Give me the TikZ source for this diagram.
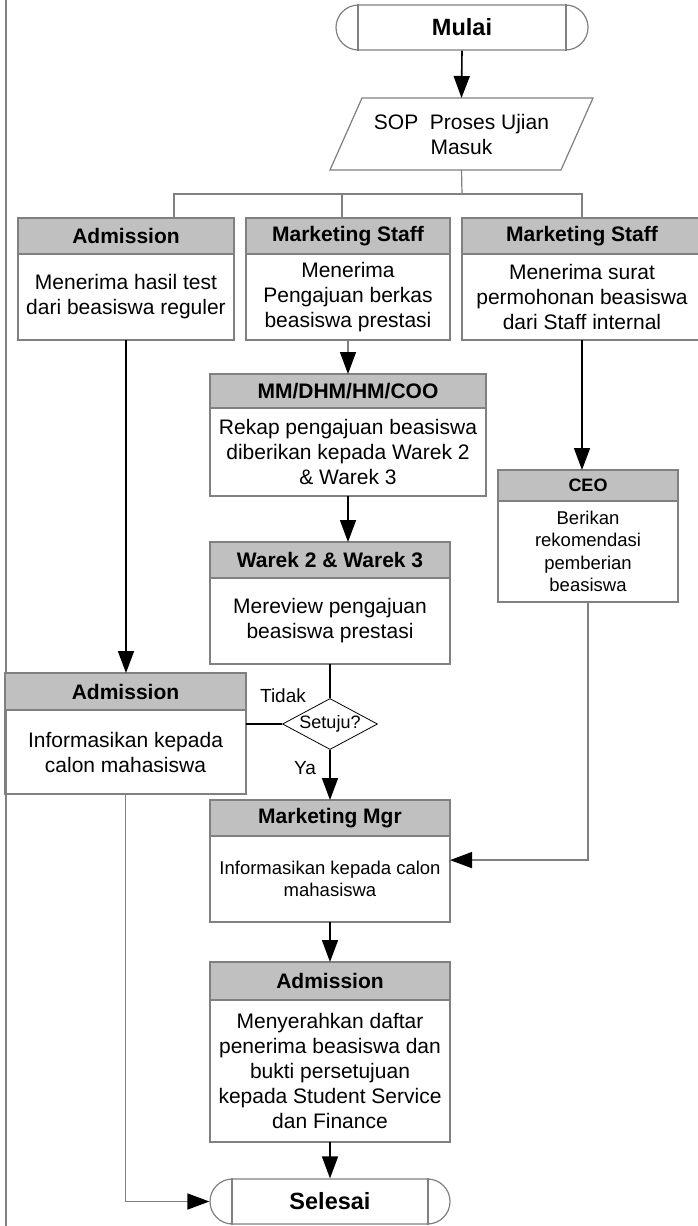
\documentclass[tikz,border=0pt]{standalone}
\usepackage{fontspec}
\setmainfont{Liberation Sans}
\usetikzlibrary{arrows.meta,calc,positioning,shapes.geometric,shapes.misc}

\definecolor{lgray}{HTML}{808080}
\definecolor{hgray}{HTML}{C0C0C0}

\tikzset{
  lin/.style={draw=lgray, line width=1.2pt},
  head/.style={lin, fill=hgray, minimum height=36pt, inner sep=0pt, outer sep=0pt,
    font=\fontsize{21}{25}\selectfont\bfseries},
  body/.style={lin, align=center, inner sep=0pt, outer sep=0pt,
    font=\fontsize{21}{25}\selectfont},
  term/.style={lin, rounded rectangle, minimum width=252pt, minimum height=45pt,
    inner sep=0pt, font=\fontsize{23.5}{28}\selectfont\bfseries},
  sopbox/.style={minimum width=263pt, minimum height=72pt, inner sep=0pt, outer sep=0pt,
    align=center, font=\fontsize{21}{25}\selectfont},
  decide/.style={lin, draw=black, line width=0.8pt, diamond, aspect=1.86, inner sep=0pt,
    minimum width=95pt, minimum height=51pt, font=\fontsize{18}{22}\selectfont},
  arr/.style={line width=1.6pt, -{Triangle[length=22pt,width=16pt]}},
  garr/.style={draw=lgray, line width=1.4pt, -{Triangle[length=22pt,width=16pt,black]}},
  kline/.style={line width=1.6pt},
  lbl/.style={font=\fontsize{19}{22}\selectfont}
}

\begin{document}
\begin{tikzpicture}[x=1pt,y=-1pt]
  \useasboundingbox (0,0) rectangle (697,1226);
  \draw[lgray, line width=2pt] (6,0) -- (6,1226);

  % awal
  \node[term] (mulai) at (462,27.5) {Mulai};
  \node[sopbox] (sop) at (461.5,134) {SOP\ \ Proses Ujian\\Masuk};
  \draw[lin] ($(sop.north west)+(32,0)$) -- (sop.north east)
    -- ($(sop.south east)+(-32,0)$) -- (sop.south west) -- cycle;

  % baris pertama
  \node[head, minimum width=216pt] (adm1h) at (126,236) {Admission};
  \node[body, minimum width=216pt, minimum height=86pt, below=0pt of adm1h] (adm1)
    {Menerima hasil test\\dari beasiswa reguler};
  \node[head, minimum width=204pt] (ms1h) at (348,236) {Marketing Staff};
  \node[body, minimum width=204pt, minimum height=86pt, below=0pt of ms1h] (ms1)
    {Menerima\\Pengajuan berkas\\beasiswa prestasi};
  \node[head, minimum width=240pt] (ms2h) at (582,236) {Marketing Staff};
  \node[body, minimum width=240pt, minimum height=86pt, below=0pt of ms2h] (ms2)
    {Menerima surat\\permohonan beasiswa\\dari Staff internal};

  % tengah
  \node[head, minimum width=276pt, minimum height=34pt] (mmh) at (348,391) {MM/DHM/HM/COO};
  \node[body, minimum width=276pt, minimum height=88pt, below=0pt of mmh] (mm)
    {Rekap pengajuan beasiswa\\diberikan kepada Warek 2\\\& Warek 3};
  \node[head, minimum width=180pt, minimum height=31pt,
    font=\fontsize{18}{22}\selectfont\bfseries] (ceoh) at (588,485.5) {CEO};
  \node[body, minimum width=180pt, minimum height=101pt, below=0pt of ceoh,
    font=\fontsize{18.5}{22.3}\selectfont] (ceo)
    {Berikan\\rekomendasi\\pemberian\\beasiswa};
  \node[head, minimum width=240pt] (warekh) at (330,560) {Warek 2 \& Warek 3};
  \node[body, minimum width=240pt, minimum height=86pt, below=0pt of warekh] (warek)
    {Mereview pengajuan\\beasiswa prestasi};

  \node[decide] (setuju) at (330,724) {Setuju?};
  \node[lbl] (tidak) at (283,696) {Tidak};
  \node[lbl] (ya) at (305,768) {Ya};

  \node[head, minimum width=241pt, minimum height=37pt] (adm2h) at (125.5,691.5) {Admission};
  \node[body, minimum width=241pt, minimum height=84pt, below=0pt of adm2h] (adm2)
    {Informasikan kepada\\calon mahasiswa};
  \node[head, minimum width=240pt] (mgrh) at (330,818) {Marketing Mgr};
  \node[body, minimum width=240pt, minimum height=86pt, below=0pt of mgrh,
    font=\fontsize{18.5}{22}\selectfont] (mgr)
    {Informasikan kepada calon\\mahasiswa};
  \node[head, minimum width=240pt, minimum height=38pt] (adm3h) at (330,981) {Admission};
  \node[body, minimum width=240pt, minimum height=142pt, below=0pt of adm3h] (adm3)
    {Menyerahkan daftar\\penerima beasiswa dan\\bukti persetujuan\\kepada Student Service\\dan Finance};

  \node[term, minimum width=240pt] (sel) at (330,1201.5) {Selesai};
  \foreach \n/\d in {mulai/104, sel/98} {
    \draw[lin] ($(\n.north)+(-\d,0)$) -- ($(\n.south)+(-\d,0)$);
    \draw[lin] ($(\n.north)+(\d,0)$) -- ($(\n.south)+(\d,0)$);
  }

  % cabang
  \coordinate (split) at (462,194);
  \coordinate (brA) at (174,194);
  \coordinate (brB) at (342,194);
  \coordinate (brC) at (582,194);
  \draw[arr] (mulai.south) -- (sop.north);
  \draw[lin] (sop.south) -- (split);
  \draw[lin] (brA |- adm1h.north) -- (brA) -- (brC) -- (ms2h.north);
  \draw[lin] (brB) -- (brB |- ms1h.north);

  % panah
  \draw[arr] (adm1.south) -- (adm1.south |- adm2h.north);
  \draw[garr] (ms1.south) -- (mmh.north);
  \draw[arr] (ms2.south) -- (ms2.south |- ceoh.north);
  \draw[arr] (mm.south) -- (mm.south |- warekh.north);
  \draw[kline] (warek.south) -- (setuju.north);
  \draw[kline] (setuju.west) -- (setuju.west -| adm2.east);
  \draw[arr] (setuju.south) -- (mgrh.north);
  \draw[garr] (ceo.south) |- ($(mgr.north east)!0.28!(mgr.south east)$);
  \draw[arr] (mgr.south) -- (adm3h.north);
  \draw[arr] (adm3.south) -- (sel.north);
  \draw[garr] (adm2.south) |- (sel.west);
\end{tikzpicture}
\end{document}
